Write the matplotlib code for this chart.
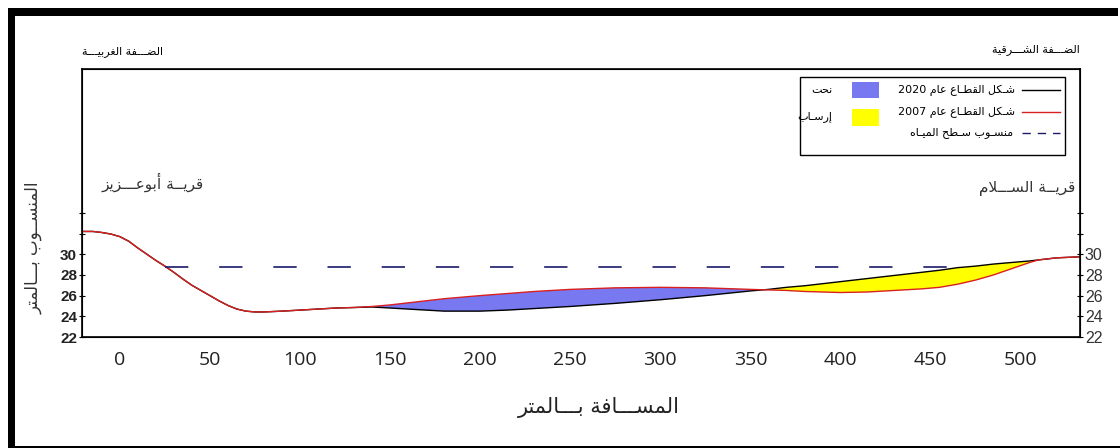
import re
import numpy as np
import matplotlib
matplotlib.use("Agg")
import matplotlib.pyplot as plt
from matplotlib.patches import Rectangle

# --- data ------------------------------------------------------------------
distance = [-21, -15, -10, -5, 0, 5, 10, 15, 20, 25, 30, 35, 40, 45, 50, 55,
            60, 65, 70, 75, 80, 90, 100, 110, 120, 130, 140, 150, 160, 170,
            180, 190, 200, 215, 230, 250, 275, 300, 325, 350, 360, 370, 380,
            390, 400, 415, 430, 445, 455, 465, 475, 485, 495, 505, 510, 520, 533]
elev_2020 = [32.2, 32.2, 32.1, 31.95, 31.7, 31.25, 30.6, 30.0, 29.4, 28.85,
             28.25, 27.6, 27.0, 26.5, 26.0, 25.5, 25.05, 24.7, 24.5, 24.42,
             24.42, 24.5, 24.6, 24.7, 24.8, 24.85, 24.9, 24.8, 24.7, 24.6,
             24.5, 24.5, 24.5, 24.6, 24.75, 24.95, 25.25, 25.6, 26.0, 26.45,
             26.6, 26.8, 26.95, 27.15, 27.35, 27.65, 27.95, 28.25, 28.45, 28.7,
             28.85, 29.05, 29.2, 29.35, 29.45, 29.65, 29.75]
elev_2007 = [32.2, 32.2, 32.1, 31.95, 31.7, 31.25, 30.6, 30.0, 29.4, 28.85,
             28.25, 27.6, 27.0, 26.5, 26.0, 25.5, 25.05, 24.7, 24.5, 24.42,
             24.42, 24.5, 24.6, 24.7, 24.8, 24.85, 24.95, 25.1, 25.3, 25.5,
             25.7, 25.85, 26.0, 26.2, 26.4, 26.6, 26.75, 26.8, 26.75, 26.6,
             26.55, 26.5, 26.4, 26.35, 26.3, 26.35, 26.5, 26.65, 26.8, 27.1,
             27.5, 28.0, 28.6, 29.2, 29.45, 29.65, 29.75]
water_x = [25, 470]
water_level = [28.8, 28.8]

x_ticks = [0, 50, 100, 150, 200, 250, 300, 350, 400, 450, 500]
y_ticks = [22, 24, 26, 28, 30, 32, 34]
y_ticklabels = ["22", "24", "26", "28", "30", "", ""]

top_left = "الضـــفة الغربيـــة"
top_right = "الضـــفة الشـــرقية"
village_left = "قريــة أبوعـــزيز"
village_right = "قريــة الســـلام"
leg_2020 = "شـكل القطـاع عام 2020"
leg_2007 = "شـكل القطـاع عام 2007"
leg_water = "منسـوب سـطح الميـاه"
leg_erosion = "نحت"
leg_deposit = "إرسـاب"
x_title = "المســـافة بـــالمتر"
y_title = "المنســوب بـــالمتر"

# --- minimal arabic shaping (presentation forms + visual order) -------------
JOIN = {'ا': (0xFE8D, False), 'أ': (0xFE83, False), 'إ': (0xFE87, False),
        'ب': (0xFE8F, True), 'ة': (0xFE93, False), 'ت': (0xFE95, True),
        'ح': (0xFEA1, True), 'د': (0xFEA9, False), 'ر': (0xFEAD, False),
        'ز': (0xFEAF, False), 'س': (0xFEB1, True), 'ش': (0xFEB5, True),
        'ض': (0xFEBD, True), 'ط': (0xFEC1, True), 'ع': (0xFEC9, True),
        'غ': (0xFECD, True), 'ف': (0xFED1, True), 'ق': (0xFED5, True),
        'ك': (0xFED9, True), 'ل': (0xFEDD, True), 'م': (0xFEE1, True),
        'ن': (0xFEE5, True), 'ه': (0xFEE9, True), 'و': (0xFEED, False),
        'ي': (0xFEF1, True)}
LAM_ALEF = {'ا': 0xFEFB, 'أ': 0xFEF7, 'إ': 0xFEF9}
TATWEEL = 'ـ'


def joins_next(c):
    return c == TATWEEL or (c in JOIN and JOIN[c][1])


def joins_prev(c):
    return c == TATWEEL or c in JOIN


def ar(s):
    out = []
    i = 0
    n = len(s)
    while i < n:
        c = s[i]
        prev = s[i - 1] if i > 0 else ''
        nxt = s[i + 1] if i + 1 < n else ''
        link_prev = bool(prev) and joins_next(prev)
        if c == 'ل' and nxt in LAM_ALEF:
            out.append(chr(LAM_ALEF[nxt] + (1 if link_prev else 0)))
            i += 2
            continue
        if c in JOIN:
            base, dual = JOIN[c]
            link_next = dual and bool(nxt) and joins_prev(nxt)
            if link_prev and link_next:
                f = 3
            elif link_prev:
                f = 1
            elif link_next:
                f = 2
            else:
                f = 0
            out.append(chr(base + f))
        else:
            out.append(c)
        i += 1
    r = ''.join(out)[::-1]
    return re.sub(r'\d+', lambda m: m.group()[::-1], r)


AR = ['DejaVu Sans']

# --- figure -------------------------------------------------------------------
fig = plt.figure(figsize=(11.2, 4.48), dpi=100)
W, H = 1120, 448
ax = fig.add_axes([82 / W, 1 - 337 / H, (1080 - 82) / W, (337 - 69) / H])

d = np.array(distance)
e20 = np.array(elev_2020)
e07 = np.array(elev_2007)
ax.fill_between(d, e20, e07, where=e07 >= e20, interpolate=True,
                color='#7878f0', lw=0)
ax.fill_between(d, e20, e07, where=e20 >= e07, interpolate=True,
                color='#ffff00', lw=0)
ax.plot(d, e20, color='black', lw=1.0)
ax.plot(d, e07, color='#d82020', lw=1.0)
ax.plot(water_x, water_level, color='#1a1a6a', lw=1.2, dashes=(14, 18.5))

ax.set_xlim(-21, 533)
ax.set_ylim(22, 47.9)
ax.set_xticks(x_ticks)
ax.set_xticklabels([str(v) for v in x_ticks], family='Open Sans',
                   fontsize=14, color='#222222')
ax.tick_params(axis='x', length=0, pad=10)
ax.set_yticks(y_ticks)
ax.set_yticklabels(y_ticklabels, family='Liberation Sans', fontsize=11,
                   fontweight='bold', color='#222222')
ax.tick_params(axis='y', direction='inout', length=5, pad=1)
for s in ax.spines.values():
    s.set_linewidth(1.2)

ax2 = ax.twinx()
ax2.set_ylim(ax.get_ylim())
ax2.set_yticks(y_ticks)
ax2.set_yticklabels(y_ticklabels, family='Liberation Sans', fontsize=11.5,
                    color='#333333')
ax2.tick_params(axis='y', direction='inout', length=5, pad=1)

# --- overlay in pixel coordinates for frame, texts and legend ---------------
ov = fig.add_axes([0, 0, 1, 1])
ov.set_xlim(0, W)
ov.set_ylim(H, 0)
ov.axis('off')

for (x0, y0, x1, y1) in [(8, 8, 1118, 16), (8, 8, 15, 448), (8, 446, 1120, 448)]:
    ov.add_patch(Rectangle((x0, y0), x1 - x0, y1 - y0, color='black', lw=0))

ov.text(82, 52, ar(top_left), family=AR, fontsize=8, ha='left', va='center')
ov.text(1080, 50, ar(top_right), family=AR, fontsize=8, ha='right', va='center')
ov.text(102, 182, ar(village_left), family=AR, fontsize=11, ha='left',
        va='center', color='#333333')
ov.text(1075, 188, ar(village_right), family=AR, fontsize=11, ha='right',
        va='center', color='#333333')
ov.text(599, 408, ar(x_title), family=AR, fontsize=15, ha='center',
        va='center', color='#222222')
ov.text(34, 248, ar(y_title), family=AR, fontsize=12, ha='center',
        va='center', rotation=90, color='#333333')

# legend
ov.add_patch(Rectangle((800, 77), 265, 78, facecolor='white',
                       edgecolor='black', lw=1.0))
ov.plot([1022, 1060], [90, 90], color='black', lw=1.0)
ov.plot([1022, 1060], [112, 112], color='#d82020', lw=1.0)
ov.plot([1022, 1060], [133, 133], color='#1a1a6a', lw=1.0, dashes=(6, 5))
ov.text(1015, 90, ar(leg_2020), family=AR, fontsize=8, ha='right', va='center')
ov.text(1015, 112, ar(leg_2007), family=AR, fontsize=8, ha='right', va='center')
ov.text(1013, 133, ar(leg_water), family=AR, fontsize=8, ha='right', va='center')
ov.add_patch(Rectangle((852, 82), 27, 16, color='#7878f0', lw=0))
ov.add_patch(Rectangle((852, 109), 27, 17, color='#ffff00', lw=0))
ov.text(832, 90, ar(leg_erosion), family=AR, fontsize=8, ha='right', va='center')
ov.text(832, 117, ar(leg_deposit), family=AR, fontsize=8, ha='right', va='center')

fig.savefig('out.png', dpi=100)
